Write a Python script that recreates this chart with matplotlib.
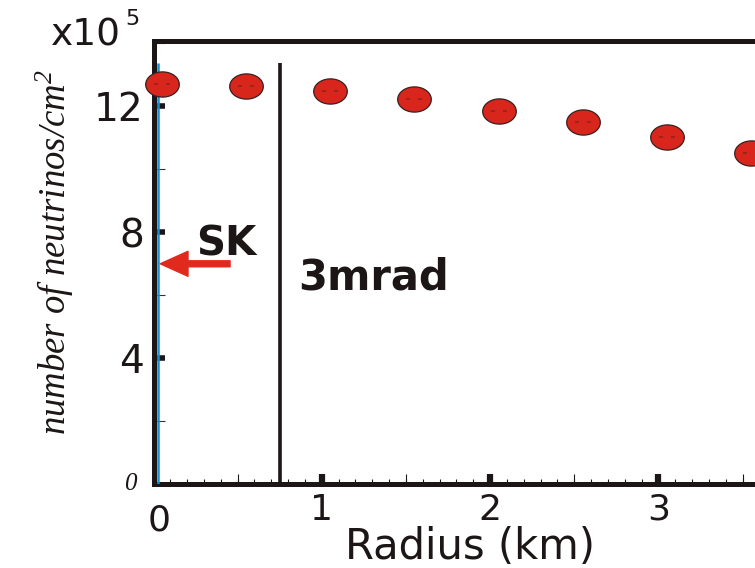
import matplotlib
matplotlib.use("Agg")
import matplotlib.pyplot as plt
import numpy as np
from matplotlib.path import Path
from matplotlib.ticker import MultipleLocator

# ---- data ----
radius_km = [0.05, 0.55, 1.05, 1.55, 2.05, 2.55, 3.05, 3.55]
neutrinos_e5 = [12.71, 12.63, 12.49, 12.22, 11.84, 11.49, 11.02, 10.53]
x_ticks = [1, 2, 3]
x_tick_labels = ["1", "2", "3"]
y_ticks = [4, 8, 12]
y_tick_labels = ["4", "8", "12"]
sk_value = 7.0
sk_line_x = 0.025
mrad_line_x = 0.75
line_top = 13.37

plt.rcParams["mathtext.fontset"] = "custom"
plt.rcParams["mathtext.rm"] = "Liberation Serif:italic"
plt.rcParams["mathtext.it"] = "Liberation Serif:italic"

W, H = 755, 568
fig = plt.figure(figsize=(W / 100, H / 100), dpi=100)
ax = fig.add_axes([153.5 / W, (H - 484.3) / H, 3.6 * 168.3 / W, 14.08 * 31.5 / H])
ax.set_xlim(0, 3.6)
ax.set_ylim(0, 14.08)

ink = "#1c1616"
for s in ["left", "bottom", "top"]:
    ax.spines[s].set_linewidth(3.6)
    ax.spines[s].set_color(ink)
ax.spines["right"].set_visible(False)

# vertical lines
ax.vlines(sk_line_x, 0, line_top, colors="#1590d2", linewidth=1.8, zorder=3)
ax.vlines(mrad_line_x, 0, line_top, colors=ink, linewidth=2.6, zorder=3)

# ellipse marker
t = np.linspace(0, 2 * np.pi, 80)
ell = Path(np.column_stack([np.cos(t), 0.75 * np.sin(t)]), closed=True)
dash = Path([(-1, 0), (-0.47, 0), (0.47, 0), (1, 0)],
            [Path.MOVETO, Path.LINETO, Path.MOVETO, Path.LINETO])
ax.plot(radius_km, neutrinos_e5, linestyle="none", marker=ell, markersize=24.2,
        markerfacecolor="#d9261c", markeredgecolor="#3a2020", markeredgewidth=0.9,
        zorder=5, clip_on=False)
ax.plot(radius_km, neutrinos_e5, linestyle="none", marker=dash, markersize=12.2,
        markeredgecolor="#8a2418", markeredgewidth=1.1, zorder=6, clip_on=False)

# ticks
ax.set_xticks(x_ticks)
ax.set_xticklabels(x_tick_labels)
ax.xaxis.set_minor_locator(MultipleLocator(0.1))
ax.tick_params(axis="x", which="major", direction="in", length=7, width=4.5,
               color=ink, labelsize=26, pad=6)
ax.tick_params(axis="x", which="minor", direction="in", length=3.5, width=0.8,
               color=ink)
ax.set_yticks(y_ticks)
ax.set_yticklabels(y_tick_labels)
ax.yaxis.set_minor_locator(MultipleLocator(2))
ax.tick_params(axis="y", which="major", direction="in", length=8, width=4,
               color=ink, labelsize=28, pad=7)
ax.tick_params(axis="y", which="minor", direction="in", length=8, width=0.8,
               color="#333333")
ax.tick_params(top=False, right=False, which="both")
for lab in ax.get_xticklabels() + ax.get_yticklabels():
    lab.set_family("DejaVu Sans")
    lab.set_color(ink)

# half-km ticks
sec = ax.secondary_xaxis("bottom")
sec.set_xticks([0.5, 1.5, 2.5, 3.5])
sec.tick_params(direction="in", length=7.5, width=0.8, color=ink, labelbottom=False)
sec.spines["bottom"].set_visible(False)

# zero labels
ax.annotate("0", xy=(0, 0), xycoords="data", xytext=(4, -13.5), textcoords="offset points",
            ha="center", va="top", fontsize=26, family="DejaVu Sans", color=ink,
            annotation_clip=False)
ax.annotate("0", xy=(0, 0), xycoords="data", xytext=(-12, 0), textcoords="offset points",
            ha="right", va="center", fontsize=18, family="Liberation Serif", style="italic",
            color=ink, annotation_clip=False)

# arrow and labels
ax.annotate("", xy=(0.04, sk_value), xytext=(0.455, sk_value),
            arrowprops=dict(facecolor="#e02a1e", edgecolor="#e02a1e", width=4.3,
                            headwidth=18, headlength=20, shrink=0), zorder=4)
ax.text(0.43, 7.6, "SK", ha="center", va="center", fontsize=29, fontweight="bold",
        family="DejaVu Sans", color=ink)
ax.text(0.858, 6.57, "3mrad", ha="left", va="center", fontsize=30, fontweight="bold",
        family="DejaVu Sans", color=ink)

# axis titles
fig.text(470 / W, 1 - 558.5 / H, "Radius (km)", ha="center", va="baseline", fontsize=30,
         family="DejaVu Sans", color=ink)
fig.text(51 / W, 1 - 46 / H, "x10", ha="left", va="baseline", fontsize=27,
         family="DejaVu Sans", color=ink)
fig.text(125 / W, 1 - 25 / H, "5", ha="left", va="baseline", fontsize=16,
         family="DejaVu Sans", color=ink)
fig.text(55 / W, 1 - 252 / H, r"number of neutrinos/cm$^{2}$", rotation=90,
         ha="center", va="center", fontsize=26.5, family="Liberation Serif",
         style="italic", color=ink)

fig.savefig("out.png", dpi=100)
